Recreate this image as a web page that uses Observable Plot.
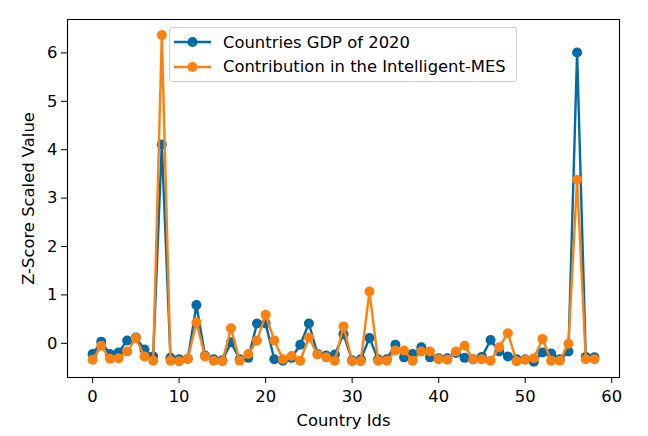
<!DOCTYPE html>
<html>
<head>
<meta charset="utf-8">
<script src="https://cdn.jsdelivr.net/npm/d3@7"></script>
<script src="https://cdn.jsdelivr.net/npm/@observablehq/plot@0.6"></script>
<style>
  html, body { margin: 0; padding: 0; background: #fff; }
  #wrap { position: relative; width: 648px; height: 436px; font-family: "DejaVu Sans", sans-serif; }
  #legend { position: absolute; left: 169px; top: 27px; width: 346px; height: 53px;
    border: 1px solid #d0d0d0; border-radius: 3px; background: rgba(255,255,255,0.8);
    font-size: 16.4px; color: #000; }
  .row { position: absolute; left: 0; height: 20px; display: flex; align-items: center; }
  .row svg { margin-left: 3px; }
  .row span { margin-left: 12px; white-space: nowrap; }
</style>
</head>
<body>
<div id="wrap"><div id="chart"></div><div id="legend"></div></div>
<script>
const countryIds = d3.range(59);
const gdp2020 = [-0.22, 0.03, -0.22, -0.19, 0.06, 0.12, -0.13, -0.27, 4.11, -0.30,
  -0.33, -0.32, 0.79, -0.25, -0.33, -0.35, 0.02, -0.33, -0.30, 0.41,
  0.41, -0.33, -0.36, -0.30, -0.03, 0.41, -0.22, -0.25, -0.23, 0.19,
  -0.35, -0.33, 0.11, -0.33, -0.33, -0.03, -0.29, -0.22, -0.08, -0.29,
  -0.31, -0.31, -0.20, -0.30, -0.33, -0.28, 0.07, -0.17, -0.27, -0.33,
  -0.33, -0.38, -0.19, -0.21, -0.33, -0.17, 6.01, -0.28, -0.29];
const intelligentMES = [-0.34, -0.05, -0.32, -0.31, -0.17, 0.11, -0.27, -0.36, 6.37, -0.36,
  -0.37, -0.32, 0.43, -0.27, -0.36, -0.37, 0.31, -0.36, -0.22, 0.06,
  0.59, 0.06, -0.33, -0.26, -0.36, 0.12, -0.23, -0.29, -0.36, 0.35,
  -0.37, -0.37, 1.07, -0.36, -0.36, -0.15, -0.15, -0.36, -0.17, -0.17,
  -0.33, -0.34, -0.17, -0.05, -0.33, -0.33, -0.36, -0.08, 0.21, -0.37,
  -0.34, -0.31, 0.09, -0.36, -0.36, -0.01, 3.38, -0.33, -0.33];
const seriesNames = ["Countries GDP of 2020", "Contribution in the Intelligent-MES"];
const seriesColors = ["#006BA4", "#FF800E"];
const xTicks = [0, 10, 20, 30, 40, 50, 60];
const yTicks = [0, 1, 2, 3, 4, 5, 6];

const gdpData = countryIds.map((id, i) => ({id, v: gdp2020[i]}));
const mesData = countryIds.map((id, i) => ({id, v: intelligentMES[i]}));

const chart = Plot.plot({
  width: 648,
  height: 436,
  marginLeft: 67,
  marginRight: 29,
  marginTop: 19,
  marginBottom: 59,
  style: { fontFamily: "DejaVu Sans, sans-serif", fontSize: "16.4px", color: "#000", background: "#fff" },
  x: { domain: [-2.9, 60.9], ticks: xTicks, tickSize: 6, tickPadding: 7, label: "Country Ids", labelArrow: "none", labelAnchor: "center", labelOffset: 48 },
  y: { domain: [-0.706, 6.69], ticks: yTicks, tickSize: 6, tickPadding: 4, label: "Z-Score Scaled Value", labelArrow: "none", labelAnchor: "center", labelOffset: 45 },
  marks: [
    Plot.frame({ stroke: "#000", strokeWidth: 1.1 }),
    Plot.line(gdpData, { x: "id", y: "v", stroke: seriesColors[0], strokeWidth: 2.4 }),
    Plot.dot(gdpData, { x: "id", y: "v", r: 5, fill: seriesColors[0] }),
    Plot.line(mesData, { x: "id", y: "v", stroke: seriesColors[1], strokeWidth: 2.4 }),
    Plot.dot(mesData, { x: "id", y: "v", r: 5, fill: seriesColors[1] })
  ]
});
document.getElementById("chart").appendChild(chart);

const legend = document.getElementById("legend");
seriesNames.forEach((name, i) => {
  const row = document.createElement("div");
  row.className = "row";
  row.style.top = (4 + i * 24.6) + "px";
  row.innerHTML = `<svg width="38" height="20"><line x1="1" y1="10" x2="38" y2="10" stroke="${seriesColors[i]}" stroke-width="2.4"/><circle cx="19.5" cy="10" r="5" fill="${seriesColors[i]}"/></svg><span>${name}</span>`;
  legend.appendChild(row);
});
</script>
</body>
</html>
